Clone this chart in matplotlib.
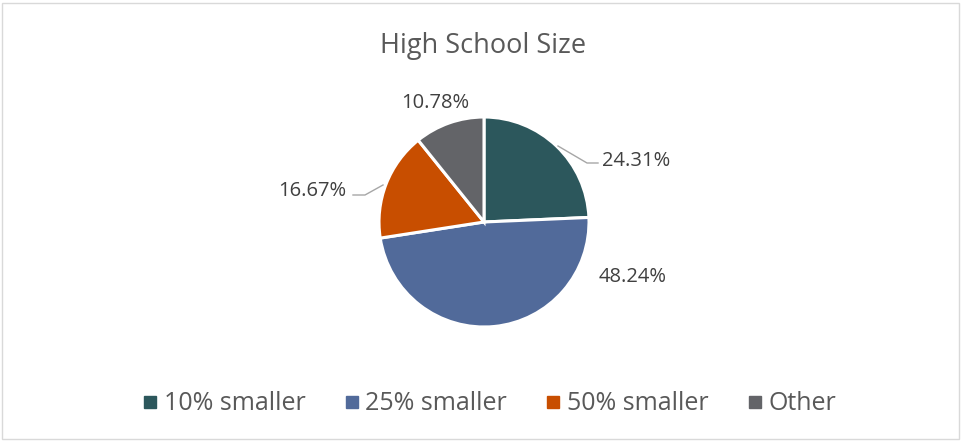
import matplotlib.pyplot as plt
from matplotlib.patches import Rectangle
from matplotlib.lines import Line2D
import numpy as np

plt.rcParams['font.family'] = ['Open Sans', 'DejaVu Sans']

# 数据
categories = ['10% smaller', '25% smaller', '50% smaller', 'Other']
shares = [24.31, 48.24, 16.67, 10.78]
colors = ['#2C575C', '#516A9A', '#C84E00', '#636468']

text_col = '#404040'
title_col = '#595959'

fig = plt.figure(figsize=(9.61, 4.41), dpi=100)
fig.patch.set_facecolor('white')
fig.add_artist(Rectangle((0.002, 0.004), 0.996, 0.99, transform=fig.transFigure,
                         fill=False, edgecolor='#D9D9D9', linewidth=1))

# 饼图区域: 圆心约 (484, 222), 半径约 105 px
W, H = 961, 441
cx, cy, r = 484, 222, 105
ax = fig.add_axes([(cx - r) / W, 1 - (cy + r) / H, 2 * r / W, 2 * r / H])
wedges, _ = ax.pie(shares, colors=colors, startangle=90, counterclock=False,
                   wedgeprops=dict(edgecolor='white', linewidth=2.2))
ax.set_xlim(-1, 1)
ax.set_ylim(-1, 1)
ax.set_aspect('equal')


def px(x, y):
    return x / W, 1 - y / H


fig.text(*px(483, 53), 'High School Size', ha='center', va='baseline',
         fontsize=19.5, color=title_col)

# 数据标签（像素坐标，基线位置）
labels = ['%.2f%%' % v for v in shares]
label_pos = [(636, 166), (633, 282), (312, 196), (435, 108)]
for lab, (lx, ly) in zip(labels, label_pos):
    fig.text(*px(lx, ly), lab, ha='center', va='baseline', fontsize=14.5, color=text_col)

# 引导线
leader_lines = [
    [(558, 146), (587, 163), (598, 163)],
    [(383, 185), (365, 195), (353, 195)],
]
for pts in leader_lines:
    xs = [px(*p)[0] for p in pts]
    ys = [px(*p)[1] for p in pts]
    fig.add_artist(Line2D(xs, ys, transform=fig.transFigure, color='#A6A6A6', linewidth=1))

# 图例
handles = [Line2D([0], [0], marker='s', linestyle='none', markersize=8.5,
                  markerfacecolor=c, markeredgecolor=c) for c in colors]
fig.legend(handles, categories, loc='center', bbox_to_anchor=px(490, 404),
           ncol=4, frameon=False, fontsize=18, labelcolor=title_col,
           handletextpad=0.3, columnspacing=1.6, handlelength=0.5)

fig.savefig('out.png', dpi=100)
